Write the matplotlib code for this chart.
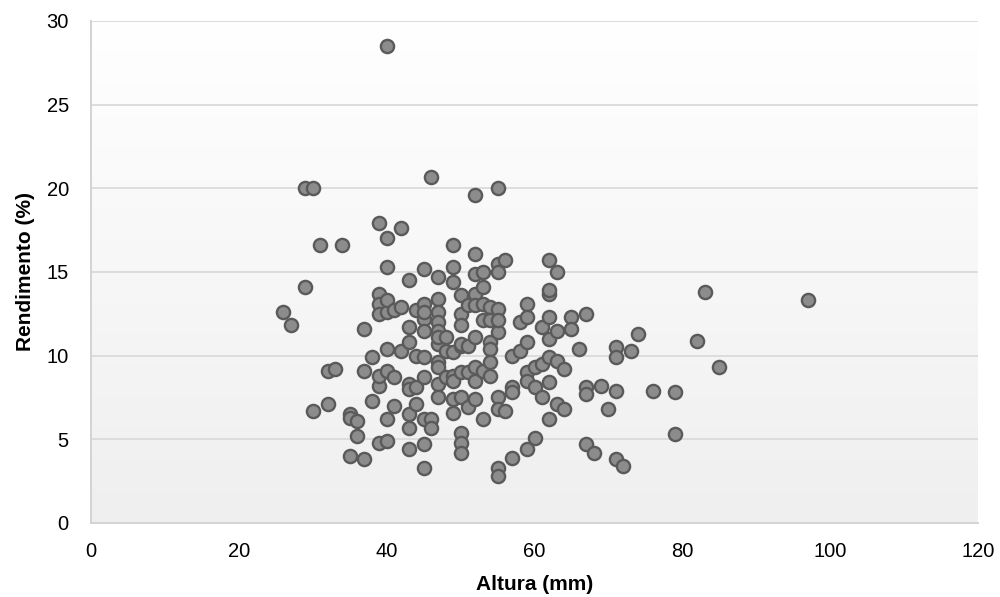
import numpy as np
import matplotlib
matplotlib.use("Agg")
import matplotlib.pyplot as plt
from matplotlib.colors import LinearSegmentedColormap

# Altura (mm) vs Rendimento (%)
altura = [
    26, 27, 29, 30, 29, 30, 31, 32, 33, 32, 34, 35, 35, 35, 36, 36, 37, 37, 37,
    38, 38, 39, 39, 39, 39, 39, 39, 39, 40, 40, 40, 40, 40, 40, 40, 40, 40,
    41, 41, 41, 42, 42, 42, 43, 43, 43, 43, 43, 43, 43, 43, 44, 44, 44, 44,
    45, 45, 45, 45, 45, 45, 45, 45, 45, 45, 46, 46, 46,
    47, 47, 47, 47, 47, 47, 47, 47, 47, 47, 47, 48, 48, 48,
    49, 49, 49, 49, 49, 49, 49, 49,
    50, 50, 50, 50, 50, 50, 50, 50, 50, 50, 51, 51, 51, 51,
    52, 52, 52, 52, 52, 52, 52, 52, 52, 53, 53, 53, 53, 53, 53,
    54, 54, 54, 54, 54, 54, 55, 55, 55, 55, 55, 55, 55, 55, 55, 55,
    56, 56, 57, 57, 57, 57, 58, 58, 59, 59, 59, 59, 59, 59,
    60, 60, 60, 61, 61, 61, 62, 62, 62, 62, 62, 62, 62, 62,
    63, 63, 63, 63, 64, 64, 65, 65, 66, 67, 67, 67, 67, 68, 69, 70,
    71, 71, 71, 71, 72, 73, 74, 76, 79, 79, 82, 83, 85, 97,
]
rendimento = [
    12.6, 11.8, 20.0, 20.0, 14.1, 6.7, 16.6, 9.1, 9.2, 7.1, 16.6, 6.5, 6.3, 4.0, 6.1, 5.2, 3.8, 11.6, 9.1,
    9.9, 7.3, 17.9, 13.7, 13.1, 12.5, 8.2, 4.8, 8.8, 17.0, 15.3, 28.5, 10.4, 12.6, 13.3, 6.2, 4.9, 9.1,
    12.7, 8.7, 7.0, 17.6, 12.9, 10.3, 14.5, 11.7, 10.8, 8.3, 8.0, 6.5, 5.7, 4.4, 8.1, 7.1, 10.0, 12.7,
    15.2, 13.1, 12.2, 11.5, 9.9, 8.7, 6.2, 4.7, 3.3, 12.6, 20.7, 6.2, 5.7,
    14.7, 13.4, 12.6, 12.0, 11.5, 10.7, 9.6, 9.3, 8.3, 7.5, 11.1, 10.3, 8.7, 11.1,
    16.6, 15.3, 14.4, 10.2, 8.8, 8.5, 7.4, 6.6,
    13.6, 12.5, 11.8, 10.6, 9.0, 7.5, 5.4, 4.8, 4.2, 10.7, 13.0, 10.6, 9.0, 6.9,
    19.6, 16.1, 14.9, 13.7, 13.0, 11.1, 9.3, 8.5, 7.4, 15.0, 14.1, 13.1, 12.1, 9.1, 6.2,
    12.9, 12.1, 10.8, 10.4, 9.6, 8.8, 20.0, 15.5, 15.0, 12.8, 11.4, 7.5, 6.8, 3.3, 2.8, 12.1,
    15.7, 6.7, 10.0, 8.1, 7.8, 3.9, 12.0, 10.3, 13.1, 12.3, 10.8, 9.0, 8.5, 4.4,
    9.3, 8.1, 5.1, 11.7, 9.5, 7.5, 15.7, 13.7, 13.9, 12.3, 11.0, 9.9, 8.4, 6.2,
    15.0, 11.5, 9.7, 7.1, 9.2, 6.8, 12.3, 11.6, 10.4, 12.5, 8.1, 7.7, 4.7, 4.2, 8.2, 6.8,
    10.5, 9.9, 7.9, 3.8, 3.4, 10.3, 11.3, 7.9, 7.8, 5.3, 10.9, 13.8, 9.3, 13.3,
]

x_ticks = [0, 20, 40, 60, 80, 100, 120]
y_ticks = [0, 5, 10, 15, 20, 25, 30]

plt.rcParams['font.family'] = ['Liberation Sans', 'DejaVu Sans']

fig = plt.figure(figsize=(10, 5.97), dpi=100)
ax = fig.add_axes([0.091, 0.124, 0.887, 0.841])

# soft vertical gradient behind the points (white on top, light grey below)
bg = LinearSegmentedColormap.from_list('bg', ['#efefef', '#ffffff'])
grad = np.linspace(1.0, 0.0, 256).reshape(-1, 1)
ax.imshow(grad, extent=[0, 120, 0, 30], aspect='auto', cmap=bg,
          vmin=0, vmax=1, zorder=0, interpolation='bicubic')

ax.set_xlim(0, 120)
ax.set_ylim(0, 30)
ax.set_xticks(x_ticks)
ax.set_yticks(y_ticks)

for v in y_ticks[1:]:
    ax.axhline(v, color='#dadada', lw=1.3, zorder=1)

ax.plot(altura, rendimento, 'o', ms=9.5, mfc='#8c8c8c', mec='#5a5a5a',
        mew=1.7, zorder=3, ls='none')

for s in ['top', 'right']:
    ax.spines[s].set_visible(False)
for s in ['left', 'bottom']:
    ax.spines[s].set_color('#d0d0d0')
    ax.spines[s].set_linewidth(1.3)

ax.tick_params(length=0, labelsize=14.5, colors='black')
ax.tick_params(axis='y', pad=16)
ax.tick_params(axis='x', pad=14)

ax.set_xlabel('Altura (mm)', fontsize=15, fontweight='bold', labelpad=10)
ax.set_ylabel('Rendimento (%)', fontsize=15, fontweight='bold', labelpad=8)

fig.savefig('out.png', dpi=100)
